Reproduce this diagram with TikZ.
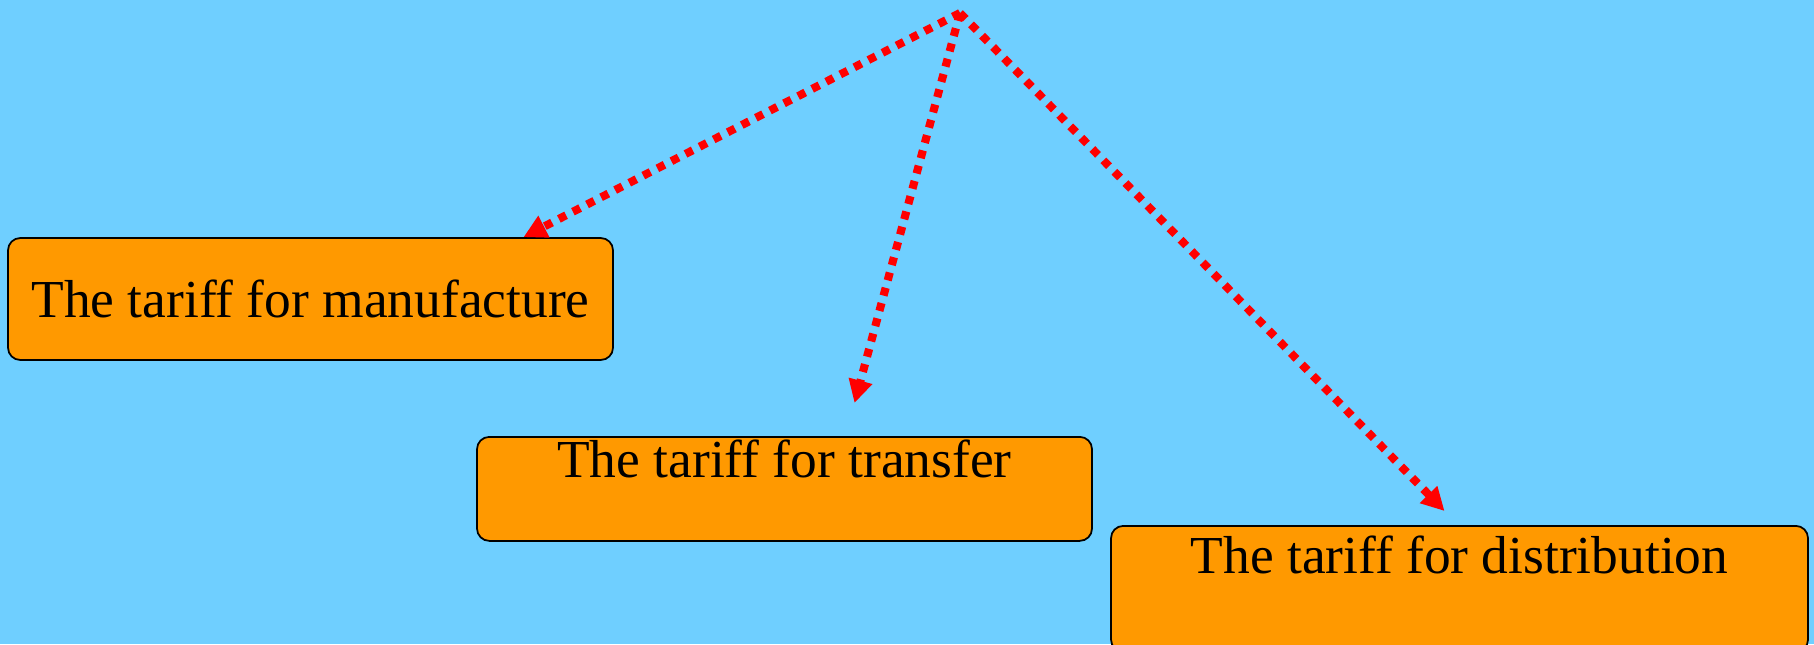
\documentclass[tikz,border=0pt]{standalone}
\usepackage{fontspec}
\setmainfont{Liberation Serif}
\usetikzlibrary{positioning, arrows.meta}
\definecolor{langit}{RGB}{111,207,255}
\definecolor{oranye}{RGB}{255,153,0}

\begin{document}
\begin{tikzpicture}[font=\fontsize{15.2pt}{17pt}\selectfont,
      kotak/.style={draw=black, line width=0.5pt, fill=oranye, rounded corners=3.5pt, align=center, inner xsep=0pt, inner ysep=0pt},
      panah/.style={-{Triangle[length=2.3mm, width=2.3mm]}, draw=red, line width=2.3pt, dash pattern=on 2.3pt off 2.2pt}
    ]

    % ─── Background ──────────────────────────────────────────────
    \fill[langit] (0,0) rectangle (18.14,-6.44);
    \useasboundingbox (0,0) rectangle (18.14,-6.44);

    % ─── Apex ────────────────────────────────────────────────────
    \coordinate (puncak) at (9.60,-0.13);

    % ─── Tariff boxes ────────────────────────────────────────────
    \node[kotak, minimum width=6.05cm, minimum height=1.22cm] (man) at (3.105,-2.99) {The tariff for manufacture};
    \node[kotak, anchor=north, minimum width=6.15cm, text height=0.41cm, text depth=0.63cm] (trn) at (7.845,-4.36) {The tariff for transfer};
    \node[kotak, anchor=north, minimum width=6.97cm, text height=0.48cm, text depth=0.78cm] (dst) at (14.595,-5.25) {The tariff for distribution};

    % ─── Arrows ──────────────────────────────────────────────────
    \draw[panah] (puncak) -- ([xshift=2.13cm]man.north);
    \draw[panah] (puncak) -- ([xshift=0.70cm, yshift=0.33cm]trn.north);
    \draw[panah] (puncak) -- ([xshift=-0.15cm, yshift=0.14cm]dst.north);

    \end{tikzpicture}
\end{document}
